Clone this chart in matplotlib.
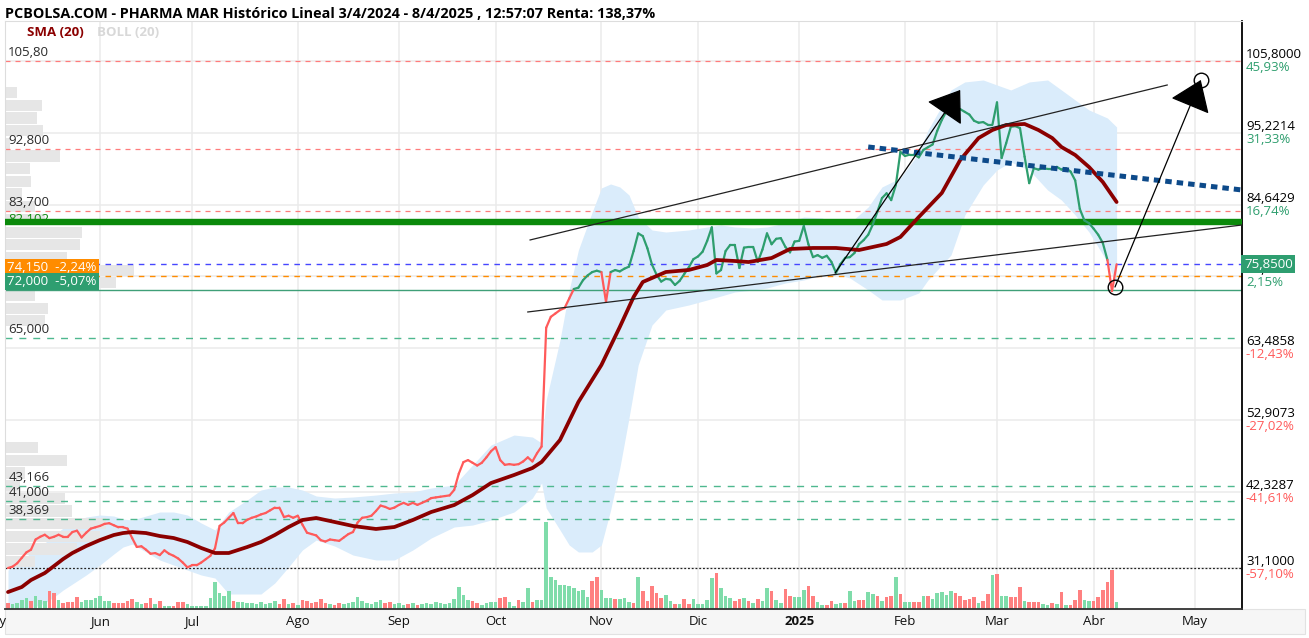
import numpy as np
import pandas as pd
import matplotlib
matplotlib.use('Agg')
import matplotlib.pyplot as plt
import matplotlib.transforms as mtransforms
from matplotlib.collections import LineCollection
from matplotlib.patches import Rectangle

plt.rcParams['font.family'] = ['Open Sans', 'DejaVu Sans']

# sessions shown on the chart (view starts 6/5/2024, last close 8/4/2025)
dates = pd.bdate_range('2024-05-06', '2025-04-08')

# daily close
close = [31.1, 31.3, 31.8, 32.6, 33.4, 33.8, 35.3, 35.7, 36.0, 35.5,
         35.7, 36.0, 35.7, 35.7, 36.4, 36.6, 35.6, 36.3, 36.9, 37.1,
         37.3, 37.6, 37.7, 37.4, 37.1, 37.1, 36.9, 35.5, 34.2, 34.3,
         33.8, 33.2, 33.3, 33.0, 33.7, 33.2, 32.9, 32.5, 31.9, 31.2,
         31.5, 31.5, 31.9, 32.4, 32.9, 34.0, 37.3, 37.8, 38.5, 39.2,
         37.7, 37.7, 38.2, 38.5, 38.7, 39.0, 39.2, 39.6, 40.0, 40.0,
         38.6, 38.8, 38.5, 38.8, 37.5, 36.3, 36.1, 35.9, 35.2, 35.0,
         35.3, 35.2, 35.1, 35.6, 36.1, 36.4, 37.8, 38.5, 38.6, 38.8,
         39.5, 40.3, 40.1, 39.8, 40.0, 40.4, 40.7, 40.4, 40.7, 40.4,
         40.7, 41.0, 41.4, 41.5, 41.6, 41.7, 41.8, 42.6, 45.0, 46.7,
         47.0, 46.6, 46.2, 46.6, 47.4, 48.3, 48.9, 47.0, 46.3, 46.4,
         46.3, 46.4, 46.8, 47.4, 46.8, 48.0, 49.0, 66.5, 68.1, 68.6,
         69.1, 69.4, 70.8, 72.2, 72.4, 73.5, 74.2, 74.7, 74.9, 74.7,
         70.3, 74.7, 75.0, 74.8, 75.2, 75.5, 77.8, 80.4, 80.0, 78.2,
         75.8, 74.3, 73.3, 73.7, 73.6, 72.8, 73.4, 74.4, 75.4, 76.6,
         77.0, 77.7, 79.3, 81.3, 74.5, 75.0, 77.8, 78.7, 78.7, 75.3,
         78.3, 78.4, 78.4, 76.2, 78.0, 80.4, 78.8, 79.6, 79.7, 78.4,
         77.6, 79.2, 79.3, 81.5, 78.8, 76.9, 77.2, 76.8, 77.1, 76.2,
         74.6, 75.9, 76.8, 76.9, 77.5, 78.8, 79.4, 80.2, 81.7, 83.6,
         85.6, 86.3, 85.3, 87.5, 92.4, 91.8, 92.0, 92.0, 91.6, 92.7,
         93.1, 93.5, 95.5, 97.1, 98.4, 98.8, 98.9, 98.7, 98.3, 97.9,
         97.0, 96.7, 96.8, 96.4, 96.4, 99.7, 91.5, 93.7, 96.1, 96.2,
         95.9, 91.7, 87.8, 90.0, 89.8, 90.0, 89.9, 89.9, 90.2, 89.8,
         90.0, 89.5, 88.2, 84.0, 82.3, 81.9, 81.1, 80.2, 79.0, 76.5,
         71.9, 75.85]

# volume bar heights (relative) and colour of each session: g = up, r = down
volume = [6, 5, 6, 9, 11, 8, 13, 9, 8, 18, 16, 9, 6, 7, 7, 12, 7, 9, 9, 11,
          13, 8, 8, 6, 6, 6, 8, 10, 7, 5, 6, 11, 5, 8, 3, 3, 3, 7, 7, 5,
          3, 3, 3, 3, 11, 27, 16, 13, 18, 8, 7, 7, 6,
          6, 5, 7, 5, 6, 8, 5, 10, 5, 6, 4, 9, 8, 6, 7, 10, 6, 5, 4, 6,
          5, 6, 7, 12, 8, 6, 5, 7, 9, 6, 7, 5, 6, 4, 5, 6, 4, 5, 6, 5,
          7, 6, 5, 6, 10, 22, 14, 9, 8, 6,
          4, 6, 7, 7, 11, 12, 7, 3, 9, 7, 21, 7, 9, 9,
          87,
          32, 29, 24, 24, 23, 21, 18, 19, 12, 28, 32, 19, 11, 11, 10, 10, 11, 7, 6, 32,
          18, 8, 23, 16, 11, 14, 8, 5, 5, 10, 5, 10, 5, 5, 9, 31, 36, 21, 13, 11,
          8, 10, 11, 8, 6, 10, 8, 21, 18, 9,
          6, 20, 13, 12, 12, 19, 23, 13, 7, 4, 4, 8, 5, 6, 6, 18, 8, 9, 9, 17,
          15, 13, 8, 12, 13, 32, 15, 7, 7, 7, 7, 13, 13, 10, 16, 17, 14, 18, 16, 13,
          9, 10, 12, 6, 8, 15, 34, 35, 13, 13, 12, 12, 22, 8, 7, 7, 7, 5, 4, 6,
          5, 17, 4, 4, 9, 19, 9, 8, 8, 12, 19, 27, 39, 7]
vol_dir = ("rggggrgggr" "rgrrrrgggg" "gggrrrrrgg" "rrgrggrrrg" "gggggggggr" "ggg"
           "ggggggrrgr" "grrrrrrgrr" "gggggggggr" "rgggrgrggg" "ggggggggrr"
           "ggggrrggrggrgg" "g"
           "gggggggggr" "rgggrgggrg" "rrrrrggrgr" "rgggggrggg" "rrgrgrggrg"
           "grrgggrrgg" "rrggrggrrg" "grgrrgrggr" "rgrgggggrr" "rrrgrrgrgg"
           "rrrgrrrggr" "grgrrrggrr" "rrrg")

# SMA(20) read at selected sessions
sma_idx = [0, 3, 5, 8, 10, 12, 14, 17, 20, 23, 25, 27, 30, 33, 36, 39, 42, 45, 48, 52,
           55, 58, 61, 64, 67, 71, 75, 80, 84, 88, 92, 97, 101, 105, 110, 114, 116, 120, 124, 129,
           133, 136, 138, 141, 143, 148, 152, 154, 158, 161, 166, 170, 175, 180, 185, 191, 194, 198, 203, 207,
           211, 214, 217, 221, 224, 227, 229, 232, 235, 238, 241]
sma_val = [27.56, 28.30, 29.33, 30.36, 31.39, 32.43, 33.31, 34.34, 35.22, 35.96,
           36.25, 36.40, 36.25, 35.81, 35.52, 34.93, 34.05, 33.31, 33.31, 34.19,
           34.93, 35.96, 37.14, 38.17, 38.47, 37.88, 37.29, 36.85, 37.14, 38.17,
           39.35, 40.38, 41.85, 43.62, 44.80, 45.83, 46.72, 49.96, 55.56, 61.01,
           66.61, 71.03, 73.24, 74.12, 74.71, 75.01, 75.74, 76.48, 76.33, 76.18,
           76.77, 78.10, 78.25, 78.25, 77.95, 78.84, 79.87, 82.81, 86.35, 91.21,
           94.45, 95.63, 96.37, 96.52, 95.63, 94.45, 93.13, 91.95, 90.18, 87.97, 85.02]

# Bollinger(20) band edges
boll_idx = [0, 3, 5, 8, 10, 12, 14, 17, 20, 23, 25, 27, 30, 33, 36, 39, 42, 45, 48, 52,
            55, 58, 61, 64, 67, 71, 75, 80, 84, 88, 92, 97, 101, 105, 110, 114, 116, 117, 120, 122,
            124, 127, 129, 131, 133, 135, 137, 140, 143, 148, 152, 155, 158, 162, 165, 169, 173, 177, 179, 183,
            187, 190, 194, 198, 200, 205, 208, 212, 215, 218, 222, 226, 229, 232, 235, 239, 241]
boll_up = [30.80, 31.98, 33.46, 34.78, 35.96, 36.99, 37.88, 38.61, 38.91, 38.76,
           38.32, 38.17, 38.76, 39.35, 39.35, 38.91, 37.73, 36.70, 39.35, 41.12,
           42.59, 43.03, 43.03, 42.59, 41.71, 41.41, 41.56, 41.85, 42.15, 42.30,
           42.89, 43.33, 46.27, 49.22, 50.69, 50.40, 49.52, 55.85, 64.69, 72.06,
           77.95, 83.55, 87.09, 87.68, 87.24, 86.06, 82.81, 80.90, 80.60, 80.90,
           81.34, 81.64, 81.34, 81.19, 81.34, 81.93, 82.81, 82.67, 81.93, 81.93,
           84.29, 87.24, 88.56, 92.24, 95.63, 101.53, 102.71, 103.00, 102.26, 101.53,
           102.71, 103.00, 101.53, 100.05, 98.58, 97.40, 96.08]
boll_lo = [24.33, 24.62, 25.20, 25.94, 26.82, 27.86, 28.74, 30.07, 31.54, 33.16,
           34.19, 34.63, 33.46, 32.28, 31.54, 30.80, 30.07, 29.62, 27.27, 27.27,
           27.27, 28.89, 31.25, 33.75, 35.22, 34.34, 33.01, 32.28, 32.28, 33.75,
           35.52, 37.14, 37.43, 38.17, 39.35, 41.41, 43.62, 39.94, 36.70, 34.49,
           33.46, 33.46, 34.49, 39.64, 45.83, 53.20, 61.01, 66.90, 69.11, 69.85,
           70.59, 71.17, 71.76, 72.06, 72.35, 73.09, 73.53, 74.27, 74.56, 73.83,
           72.06, 70.59, 70.59, 71.62, 73.53, 77.22, 83.11, 87.53, 89.74, 90.92,
           89.74, 86.79, 85.32, 83.11, 80.60, 76.18, 72.80]

# volume profile on the left, 40 price bins between the period low and high
vp_low, vp_high = 31.1, 105.8
vp_vol = [30, 72, 95, 100, 67, 60, 15, 20, 62, 33,
          0, 0, 0, 0, 0, 0, 0, 0, 0, 40,
          43, 30, 110, 128, 62, 75, 77, 40, 30, 17,
          26, 25, 55, 5, 38, 32, 37, 12, 0, 0]

# horizontal levels drawn on the chart
red_levels = [105.80, 92.80, 83.70]
red_labels = ['105,80', '92,800', '83,700']
green_levels = [65.0, 43.166, 41.0, 38.369]
green_labels = ['65,000', '43,166', '41,000', '38,369']
key_level = 82.102
last_price = 75.85
alert_levels = [74.15, 72.0]
alert_labels = ['74,150  -2,24%', '72,000  -5,07%']
period_low = 31.1

# right scale
right_ticks = [105.8, 95.2214, 84.6429, 74.0643, 63.4858, 52.9073, 42.3287, 31.1]
right_text = ['105,8000', '95,2214', '84,6429', '74,0643', '63,4858', '52,9073', '42,3287', '31,1000']
right_pct = ['45,93%', '31,33%', '16,74%', '2,15%', '-12,43%', '-27,02%', '-41,61%', '-57,10%']

# hand drawn lines (session index, price)
trend_up = [(113.5, 79.43), (252.0, 102.26)]
trend_lo = [(113.0, 68.82), (268.3, 81.64)]
blue_dots = [(187.0, 93.13), (268.3, 86.79)]
arrow_1 = [(179.8, 74.56), (207.0, 101.53)]
arrow_2 = [(240.65, 72.5), (259.3, 103.0)]

month_names = ['May', 'Jun', 'Jul', 'Ago', 'Sep', 'Oct', 'Nov', 'Dic', '2025', 'Feb', 'Mar', 'Abr', 'May']

title = 'PCBOLSA.COM - PHARMA MAR Histórico Lineal 3/4/2024 - 8/4/2025 , 12:57:07 Renta: 138,37%'

# ---------------------------------------------------------------
fig = plt.figure(figsize=(13.09, 6.38), dpi=100)
ax = fig.add_axes([5 / 1309, 29 / 638, 1237 / 1309, 588 / 638])

x = np.arange(len(close))
month_start = pd.date_range('2024-05-01', '2025-05-01', freq='BMS')
month_pos = np.busday_count(np.datetime64('2024-05-06'), month_start.values.astype('datetime64[D]'))

# grid
for p in month_pos:
    ax.axvline(p, color='#ebebeb', lw=1.1, zorder=0.3)
for t in right_ticks:
    ax.axhline(t, color='#ebebeb', lw=1.1, zorder=0.3)

# bollinger band
ax.fill_between(boll_idx, boll_lo, boll_up, color='#daecfb', lw=0, zorder=1)

# volume profile
edges = np.linspace(vp_low, vp_high, len(vp_vol) + 1)
centers = (edges[:-1] + edges[1:]) / 2
prof_tr = mtransforms.blended_transform_factory(ax.transAxes, ax.transData)
ax.barh(centers, np.array(vp_vol) * 0.104 / max(vp_vol), height=(edges[1] - edges[0]) * 0.88,
        left=0, color='#e6e6e6', lw=0, transform=prof_tr, zorder=1.5)

# levels
for v in red_levels:
    ax.axhline(v, color='#ff7b7b', lw=0.9, ls=(0, (4, 4)), zorder=2)
for v in green_levels:
    ax.axhline(v, color='#4fb88f', lw=1.0, ls=(0, (5, 5)), zorder=2)
ax.axhline(last_price, color='#4646ff', lw=1.0, ls=(0, (4, 4)), zorder=2)
ax.axhline(alert_levels[0], color='#ff8c00', lw=1.0, ls=(0, (4, 4)), zorder=2)
ax.axhline(alert_levels[1], color='#3f9f78', lw=1.0, zorder=2)
ax.axhline(period_low, color='#222222', lw=0.9, ls=(0, (1.5, 1.5)), zorder=2)

# left labels
for v, s in zip(red_levels + green_levels, red_labels + green_labels):
    ax.text(0.0026, v + 0.3, s, transform=prof_tr, fontsize=9.5, color='#2a2a2a',
            va='bottom', ha='left', zorder=5)
ax.text(0.0026, key_level - 0.55, '82,102', transform=prof_tr, fontsize=9.5, color='#138a13',
        va='bottom', ha='left', zorder=2.5)
ax.axhline(key_level, color='#0b8a0b', lw=4.6, zorder=2.6)
box_cols = ['#ff8c00', '#2e9e70']
for v, s, c in zip(alert_levels, alert_labels, box_cols):
    ax.text(0.0018, v + 0.3, s, transform=prof_tr, fontsize=9.5, color='white', va='bottom', ha='left',
            zorder=6, bbox=dict(boxstyle='square,pad=0.15', fc=c, ec='none'))

# volume bars
vol_tr = mtransforms.blended_transform_factory(ax.transData, ax.transAxes)
vcol = ['#7fdcaa' if d == 'g' else '#ff8080' for d in vol_dir]
ax.bar(x, np.array(volume) * 0.148 / max(volume), width=0.8, bottom=0, color=vcol, lw=0,
       transform=vol_tr, zorder=2.5)

# price line, green above the 72 level, red below
cl = np.array(close)
segs = [[(i, cl[i]), (i + 1, cl[i + 1])] for i in range(len(cl) - 1)]
scol = ['#ff5a5a' if min(cl[i], cl[i + 1]) < alert_levels[1] else '#2e9e6e' for i in range(len(cl) - 1)]
ax.add_collection(LineCollection(segs, colors=scol, linewidths=1.6, capstyle='round',
                                 joinstyle='round', zorder=3))

# SMA 20
ax.plot(sma_idx, sma_val, color='#8b0000', lw=2.7, solid_capstyle='round', zorder=3.5)

# drawn trend lines
for ln in (trend_up, trend_lo):
    ax.plot([ln[0][0], ln[1][0]], [ln[0][1], ln[1][1]], color='#222222', lw=0.9, zorder=4)
ax.plot([blue_dots[0][0], blue_dots[1][0]], [blue_dots[0][1], blue_dots[1][1]], color='#0d4a8a',
        lw=3.6, ls=(0, (1.3, 1.0)), zorder=4)
for a in (arrow_1, arrow_2):
    ax.annotate('', xy=a[1], xytext=a[0],
                arrowprops=dict(arrowstyle='-|>,head_length=1.05,head_width=0.75', mutation_scale=18,
                                color='black', lw=0.9, shrinkA=0, shrinkB=0), zorder=6)
ax.plot([arrow_2[0][0], arrow_2[1][0]], [arrow_2[0][1], arrow_2[1][1]], 'o', ms=10.5,
        mfc='none', mec='black', mew=1.0, zorder=6)

# right scale labels
right_tr = mtransforms.blended_transform_factory(ax.transAxes, ax.transData)
for t, s, pc in zip(right_ticks, right_text, right_pct):
    ax.text(1.0032, t, s, transform=right_tr, fontsize=9.5, color='black', va='bottom', ha='left',
            clip_on=False)
    ax.text(1.0032, t, pc, transform=right_tr, fontsize=9.5,
            color='#ff5a5a' if pc.startswith('-') else '#2e9e6e', va='top', ha='left', clip_on=False)
ax.text(1.0016, last_price, '75,8500', transform=right_tr, fontsize=9.5, color='white', va='center',
        ha='left', clip_on=False, zorder=7,
        bbox=dict(boxstyle='square,pad=0.2', fc='#2e9e70', ec='none'))

# month labels
lab_tr = mtransforms.blended_transform_factory(ax.transData, ax.transAxes)
for p, m in zip(month_pos, month_names):
    ax.text(p, -0.022, m, transform=lab_tr, fontsize=9.5, ha='center', va='center', clip_on=False,
            fontweight='bold' if m == '2025' else 'normal', color='#111111')

# legend + title
ax.text(0.0178, 0.9796, 'SMA (20)', transform=ax.transAxes, fontsize=9.5, color='#8b0000',
        fontweight='bold', va='center')
ax.text(0.0745, 0.9796, 'BOLL (20)', transform=ax.transAxes, fontsize=9.5, color='#d8d8d8',
        fontweight='bold', va='center')
fig.text(5 / 1309, 1 - 14 / 638, title, fontsize=10.4, fontweight='bold', va='center', ha='left')

# label strip under the chart
fig.patches.append(Rectangle((5 / 1309, 4 / 638), 1300 / 1309, 25 / 638, transform=fig.transFigure,
                             fc='#f6f6f6', ec='#e2e2e2', lw=0.8, zorder=-1))

ax.set_xticks([])
ax.set_yticks([])
for s in ('left', 'top'):
    ax.spines[s].set_color('#dddddd')
ax.spines['right'].set_color('black')
ax.spines['right'].set_linewidth(1.3)
ax.spines['bottom'].set_color('#333333')
ax.spines['bottom'].set_linewidth(1.3)
ax.set_xlim(-0.65, 268.26)
ax.set_ylim(25.06, 111.69)

fig.savefig('out.png', dpi=100)
